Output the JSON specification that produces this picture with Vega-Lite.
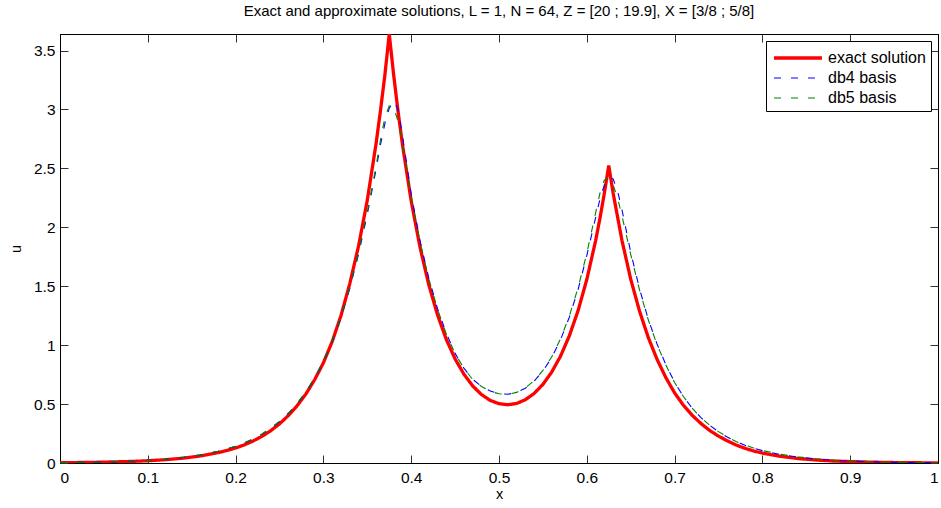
{
  "$schema": "https://vega.github.io/schema/vega-lite/v6.json",
  "width": 878,
  "height": 429,
  "autosize": {"type": "none"},
  "padding": {"left": 60, "top": 34, "right": 3, "bottom": 45},
  "background": "white",
  "title": {"text": "Exact and approximate solutions, L = 1, N = 64, Z = [20 ; 19.9], X = [3/8 ; 5/8]", "font": "Liberation Sans", "fontSize": 15, "fontWeight": "normal", "color": "black", "offset": 15, "anchor": "middle"},
  "config": {
    "view": {"stroke": "black", "strokeWidth": 1},
    "axis": {"grid": false, "domainColor": "black", "domainWidth": 1, "tickColor": "#333", "tickWidth": 1, "tickSize": -8, "labelFont": "Liberation Sans", "labelFontSize": 15.5, "labelColor": "black", "titleFont": "Liberation Sans", "titleFontSize": 14.5, "titleFontWeight": "normal", "titleColor": "black"}
  },
  "datasets": {"curves": [
    {"x":0,"u":0.002,"series":"exact solution"},{"x":0.02,"u":0.004,"series":"exact solution"},{"x":0.04,"u":0.006,"series":"exact solution"},{"x":0.06,"u":0.009,"series":"exact solution"},{"x":0.08,"u":0.013,"series":"exact solution"},{"x":0.1,"u":0.019,"series":"exact solution"},{"x":0.12,"u":0.028,"series":"exact solution"},{"x":0.14,"u":0.041,"series":"exact solution"},{"x":0.16,"u":0.06,"series":"exact solution"},{"x":0.18,"u":0.088,"series":"exact solution"},{"x":0.19,"u":0.106,"series":"exact solution"},{"x":0.2,"u":0.127,"series":"exact solution"},{"x":0.21,"u":0.154,"series":"exact solution"},{"x":0.22,"u":0.187,"series":"exact solution"},{"x":0.23,"u":0.226,"series":"exact solution"},{"x":0.24,"u":0.274,"series":"exact solution"},{"x":0.25,"u":0.332,"series":"exact solution"},{"x":0.26,"u":0.402,"series":"exact solution"},{"x":0.27,"u":0.485,"series":"exact solution"},{"x":0.28,"u":0.585,"series":"exact solution"},{"x":0.29,"u":0.706,"series":"exact solution"},{"x":0.3,"u":0.85,"series":"exact solution"},{"x":0.31,"u":1.03,"series":"exact solution"},{"x":0.32,"u":1.25,"series":"exact solution"},{"x":0.33,"u":1.52,"series":"exact solution"},{"x":0.34,"u":1.84,"series":"exact solution"},{"x":0.35,"u":2.23,"series":"exact solution"},{"x":0.36,"u":2.71,"series":"exact solution"},{"x":0.365,"u":2.99,"series":"exact solution"},{"x":0.37,"u":3.29,"series":"exact solution"},{"x":0.375,"u":3.64,"series":"exact solution"},{"x":0.38,"u":3.294,"series":"exact solution"},{"x":0.385,"u":2.985,"series":"exact solution"},{"x":0.39,"u":2.704,"series":"exact solution"},{"x":0.4,"u":2.223,"series":"exact solution"},{"x":0.41,"u":1.832,"series":"exact solution"},{"x":0.42,"u":1.513,"series":"exact solution"},{"x":0.43,"u":1.256,"series":"exact solution"},{"x":0.44,"u":1.048,"series":"exact solution"},{"x":0.45,"u":0.883,"series":"exact solution"},{"x":0.46,"u":0.754,"series":"exact solution"},{"x":0.47,"u":0.654,"series":"exact solution"},{"x":0.48,"u":0.581,"series":"exact solution"},{"x":0.49,"u":0.531,"series":"exact solution"},{"x":0.5,"u":0.503,"series":"exact solution"},{"x":0.51,"u":0.494,"series":"exact solution"},{"x":0.52,"u":0.505,"series":"exact solution"},{"x":0.53,"u":0.537,"series":"exact solution"},{"x":0.54,"u":0.59,"series":"exact solution"},{"x":0.55,"u":0.667,"series":"exact solution"},{"x":0.56,"u":0.771,"series":"exact solution"},{"x":0.57,"u":0.905,"series":"exact solution"},{"x":0.58,"u":1.077,"series":"exact solution"},{"x":0.59,"u":1.291,"series":"exact solution"},{"x":0.6,"u":1.557,"series":"exact solution"},{"x":0.61,"u":1.885,"series":"exact solution"},{"x":0.615,"u":2.077,"series":"exact solution"},{"x":0.62,"u":2.289,"series":"exact solution"},{"x":0.625,"u":2.524,"series":"exact solution"},{"x":0.63,"u":2.29,"series":"exact solution"},{"x":0.635,"u":2.09,"series":"exact solution"},{"x":0.64,"u":1.89,"series":"exact solution"},{"x":0.65,"u":1.56,"series":"exact solution"},{"x":0.66,"u":1.29,"series":"exact solution"},{"x":0.67,"u":1.065,"series":"exact solution"},{"x":0.68,"u":0.88,"series":"exact solution"},{"x":0.69,"u":0.725,"series":"exact solution"},{"x":0.7,"u":0.595,"series":"exact solution"},{"x":0.71,"u":0.49,"series":"exact solution"},{"x":0.72,"u":0.405,"series":"exact solution"},{"x":0.73,"u":0.335,"series":"exact solution"},{"x":0.74,"u":0.276,"series":"exact solution"},{"x":0.75,"u":0.228,"series":"exact solution"},{"x":0.76,"u":0.188,"series":"exact solution"},{"x":0.77,"u":0.153,"series":"exact solution"},{"x":0.78,"u":0.125,"series":"exact solution"},{"x":0.79,"u":0.102,"series":"exact solution"},{"x":0.8,"u":0.084,"series":"exact solution"},{"x":0.82,"u":0.057,"series":"exact solution"},{"x":0.84,"u":0.038,"series":"exact solution"},{"x":0.86,"u":0.026,"series":"exact solution"},{"x":0.88,"u":0.017,"series":"exact solution"},{"x":0.9,"u":0.012,"series":"exact solution"},{"x":0.92,"u":0.008,"series":"exact solution"},{"x":0.94,"u":0.005,"series":"exact solution"},{"x":0.96,"u":0.003,"series":"exact solution"},{"x":0.98,"u":0.002,"series":"exact solution"},{"x":1,"u":0.001,"series":"exact solution"},

    {"x":0,"u":0.003,"series":"db4 basis"},{"x":0.02,"u":0.005,"series":"db4 basis"},{"x":0.04,"u":0.007,"series":"db4 basis"},{"x":0.06,"u":0.01,"series":"db4 basis"},{"x":0.08,"u":0.015,"series":"db4 basis"},{"x":0.1,"u":0.022,"series":"db4 basis"},{"x":0.12,"u":0.032,"series":"db4 basis"},{"x":0.14,"u":0.047,"series":"db4 basis"},{"x":0.16,"u":0.068,"series":"db4 basis"},{"x":0.18,"u":0.099,"series":"db4 basis"},{"x":0.19,"u":0.119,"series":"db4 basis"},{"x":0.2,"u":0.142,"series":"db4 basis"},{"x":0.21,"u":0.17,"series":"db4 basis"},{"x":0.22,"u":0.204,"series":"db4 basis"},{"x":0.23,"u":0.245,"series":"db4 basis"},{"x":0.24,"u":0.293,"series":"db4 basis"},{"x":0.25,"u":0.351,"series":"db4 basis"},{"x":0.26,"u":0.42,"series":"db4 basis"},{"x":0.27,"u":0.502,"series":"db4 basis"},{"x":0.28,"u":0.6,"series":"db4 basis"},{"x":0.29,"u":0.718,"series":"db4 basis"},{"x":0.3,"u":0.858,"series":"db4 basis"},{"x":0.31,"u":1.03,"series":"db4 basis"},{"x":0.32,"u":1.235,"series":"db4 basis"},{"x":0.33,"u":1.48,"series":"db4 basis"},{"x":0.34,"u":1.77,"series":"db4 basis"},{"x":0.35,"u":2.11,"series":"db4 basis"},{"x":0.36,"u":2.49,"series":"db4 basis"},{"x":0.365,"u":2.7,"series":"db4 basis"},{"x":0.37,"u":2.88,"series":"db4 basis"},{"x":0.375,"u":3.01,"series":"db4 basis"},{"x":0.38,"u":3.07,"series":"db4 basis"},{"x":0.385,"u":3.0,"series":"db4 basis"},{"x":0.39,"u":2.78,"series":"db4 basis"},{"x":0.4,"u":2.28,"series":"db4 basis"},{"x":0.41,"u":1.89,"series":"db4 basis"},{"x":0.42,"u":1.57,"series":"db4 basis"},{"x":0.43,"u":1.31,"series":"db4 basis"},{"x":0.44,"u":1.1,"series":"db4 basis"},{"x":0.45,"u":0.93,"series":"db4 basis"},{"x":0.46,"u":0.805,"series":"db4 basis"},{"x":0.47,"u":0.71,"series":"db4 basis"},{"x":0.48,"u":0.65,"series":"db4 basis"},{"x":0.49,"u":0.61,"series":"db4 basis"},{"x":0.5,"u":0.588,"series":"db4 basis"},{"x":0.51,"u":0.583,"series":"db4 basis"},{"x":0.52,"u":0.598,"series":"db4 basis"},{"x":0.53,"u":0.635,"series":"db4 basis"},{"x":0.54,"u":0.695,"series":"db4 basis"},{"x":0.55,"u":0.78,"series":"db4 basis"},{"x":0.56,"u":0.895,"series":"db4 basis"},{"x":0.57,"u":1.045,"series":"db4 basis"},{"x":0.58,"u":1.235,"series":"db4 basis"},{"x":0.59,"u":1.47,"series":"db4 basis"},{"x":0.6,"u":1.76,"series":"db4 basis"},{"x":0.61,"u":2.08,"series":"db4 basis"},{"x":0.615,"u":2.24,"series":"db4 basis"},{"x":0.62,"u":2.36,"series":"db4 basis"},{"x":0.625,"u":2.42,"series":"db4 basis"},{"x":0.63,"u":2.41,"series":"db4 basis"},{"x":0.635,"u":2.31,"series":"db4 basis"},{"x":0.64,"u":2.15,"series":"db4 basis"},{"x":0.65,"u":1.79,"series":"db4 basis"},{"x":0.66,"u":1.48,"series":"db4 basis"},{"x":0.67,"u":1.22,"series":"db4 basis"},{"x":0.68,"u":1.01,"series":"db4 basis"},{"x":0.69,"u":0.835,"series":"db4 basis"},{"x":0.7,"u":0.685,"series":"db4 basis"},{"x":0.71,"u":0.565,"series":"db4 basis"},{"x":0.72,"u":0.465,"series":"db4 basis"},{"x":0.73,"u":0.385,"series":"db4 basis"},{"x":0.74,"u":0.32,"series":"db4 basis"},{"x":0.75,"u":0.265,"series":"db4 basis"},{"x":0.76,"u":0.22,"series":"db4 basis"},{"x":0.77,"u":0.182,"series":"db4 basis"},{"x":0.78,"u":0.151,"series":"db4 basis"},{"x":0.79,"u":0.126,"series":"db4 basis"},{"x":0.8,"u":0.105,"series":"db4 basis"},{"x":0.82,"u":0.073,"series":"db4 basis"},{"x":0.84,"u":0.051,"series":"db4 basis"},{"x":0.86,"u":0.035,"series":"db4 basis"},{"x":0.88,"u":0.024,"series":"db4 basis"},{"x":0.9,"u":0.016,"series":"db4 basis"},{"x":0.92,"u":0.011,"series":"db4 basis"},{"x":0.94,"u":0.007,"series":"db4 basis"},{"x":0.96,"u":0.005,"series":"db4 basis"},{"x":0.98,"u":0.003,"series":"db4 basis"},{"x":1,"u":0.002,"series":"db4 basis"},

    {"x":0,"u":0.003,"series":"db5 basis"},{"x":0.02,"u":0.005,"series":"db5 basis"},{"x":0.04,"u":0.007,"series":"db5 basis"},{"x":0.06,"u":0.01,"series":"db5 basis"},{"x":0.08,"u":0.015,"series":"db5 basis"},{"x":0.1,"u":0.022,"series":"db5 basis"},{"x":0.12,"u":0.032,"series":"db5 basis"},{"x":0.14,"u":0.047,"series":"db5 basis"},{"x":0.16,"u":0.068,"series":"db5 basis"},{"x":0.18,"u":0.1,"series":"db5 basis"},{"x":0.19,"u":0.12,"series":"db5 basis"},{"x":0.2,"u":0.143,"series":"db5 basis"},{"x":0.21,"u":0.171,"series":"db5 basis"},{"x":0.22,"u":0.205,"series":"db5 basis"},{"x":0.23,"u":0.246,"series":"db5 basis"},{"x":0.24,"u":0.295,"series":"db5 basis"},{"x":0.25,"u":0.353,"series":"db5 basis"},{"x":0.26,"u":0.422,"series":"db5 basis"},{"x":0.27,"u":0.505,"series":"db5 basis"},{"x":0.28,"u":0.603,"series":"db5 basis"},{"x":0.29,"u":0.722,"series":"db5 basis"},{"x":0.3,"u":0.863,"series":"db5 basis"},{"x":0.31,"u":1.035,"series":"db5 basis"},{"x":0.32,"u":1.24,"series":"db5 basis"},{"x":0.33,"u":1.49,"series":"db5 basis"},{"x":0.34,"u":1.785,"series":"db5 basis"},{"x":0.35,"u":2.13,"series":"db5 basis"},{"x":0.36,"u":2.52,"series":"db5 basis"},{"x":0.365,"u":2.74,"series":"db5 basis"},{"x":0.37,"u":2.93,"series":"db5 basis"},{"x":0.375,"u":3.03,"series":"db5 basis"},{"x":0.38,"u":3.02,"series":"db5 basis"},{"x":0.385,"u":2.9,"series":"db5 basis"},{"x":0.39,"u":2.72,"series":"db5 basis"},{"x":0.4,"u":2.26,"series":"db5 basis"},{"x":0.41,"u":1.88,"series":"db5 basis"},{"x":0.42,"u":1.565,"series":"db5 basis"},{"x":0.43,"u":1.305,"series":"db5 basis"},{"x":0.44,"u":1.095,"series":"db5 basis"},{"x":0.45,"u":0.928,"series":"db5 basis"},{"x":0.46,"u":0.803,"series":"db5 basis"},{"x":0.47,"u":0.709,"series":"db5 basis"},{"x":0.48,"u":0.649,"series":"db5 basis"},{"x":0.49,"u":0.609,"series":"db5 basis"},{"x":0.5,"u":0.587,"series":"db5 basis"},{"x":0.51,"u":0.583,"series":"db5 basis"},{"x":0.52,"u":0.599,"series":"db5 basis"},{"x":0.53,"u":0.637,"series":"db5 basis"},{"x":0.54,"u":0.698,"series":"db5 basis"},{"x":0.55,"u":0.785,"series":"db5 basis"},{"x":0.56,"u":0.9,"series":"db5 basis"},{"x":0.57,"u":1.052,"series":"db5 basis"},{"x":0.58,"u":1.245,"series":"db5 basis"},{"x":0.59,"u":1.485,"series":"db5 basis"},{"x":0.6,"u":1.78,"series":"db5 basis"},{"x":0.61,"u":2.12,"series":"db5 basis"},{"x":0.615,"u":2.29,"series":"db5 basis"},{"x":0.62,"u":2.4,"series":"db5 basis"},{"x":0.625,"u":2.42,"series":"db5 basis"},{"x":0.63,"u":2.36,"series":"db5 basis"},{"x":0.635,"u":2.25,"series":"db5 basis"},{"x":0.64,"u":2.1,"series":"db5 basis"},{"x":0.65,"u":1.77,"series":"db5 basis"},{"x":0.66,"u":1.47,"series":"db5 basis"},{"x":0.67,"u":1.215,"series":"db5 basis"},{"x":0.68,"u":1.005,"series":"db5 basis"},{"x":0.69,"u":0.832,"series":"db5 basis"},{"x":0.7,"u":0.683,"series":"db5 basis"},{"x":0.71,"u":0.564,"series":"db5 basis"},{"x":0.72,"u":0.465,"series":"db5 basis"},{"x":0.73,"u":0.385,"series":"db5 basis"},{"x":0.74,"u":0.32,"series":"db5 basis"},{"x":0.75,"u":0.266,"series":"db5 basis"},{"x":0.76,"u":0.221,"series":"db5 basis"},{"x":0.77,"u":0.183,"series":"db5 basis"},{"x":0.78,"u":0.152,"series":"db5 basis"},{"x":0.79,"u":0.127,"series":"db5 basis"},{"x":0.8,"u":0.106,"series":"db5 basis"},{"x":0.82,"u":0.074,"series":"db5 basis"},{"x":0.84,"u":0.052,"series":"db5 basis"},{"x":0.86,"u":0.036,"series":"db5 basis"},{"x":0.88,"u":0.024,"series":"db5 basis"},{"x":0.9,"u":0.016,"series":"db5 basis"},{"x":0.92,"u":0.011,"series":"db5 basis"},{"x":0.94,"u":0.007,"series":"db5 basis"},{"x":0.96,"u":0.005,"series":"db5 basis"},{"x":0.98,"u":0.003,"series":"db5 basis"},{"x":1,"u":0.002,"series":"db5 basis"}
  ]},
  "data": {"name": "curves"},
  "layer": [
    {"transform": [{"filter": "datum.series == 'exact solution'"}], "mark": {"type": "line", "clip": true},
     "encoding": {
      "x": {"field": "x", "type": "quantitative", "scale": {"domain": [0, 1], "nice": false, "zero": false},
        "axis": {"values": [0,0.1,0.2,0.3,0.4,0.5,0.6,0.7,0.8,0.9,1], "format": "~g", "title": "x", "labelPadding": 15, "titlePadding": 2}},
      "y": {"field": "u", "type": "quantitative", "scale": {"domain": [0, 3.64], "nice": false, "zero": false},
        "axis": {"values": [0,0.5,1,1.5,2,2.5,3,3.5], "format": "~g", "title": "u", "labelPadding": 13, "titlePadding": 10}},
      "color": {"field": "series", "type": "nominal",
        "scale": {"domain": ["exact solution", "db4 basis", "db5 basis"], "range": ["#ff0000", "#0000ff", "#008000"]},
        "legend": {"title": null, "orient": "top-right", "offset": 7, "symbolType": "M-2.4,0H2.4", "symbolSize": 400, "symbolOffset": 15, "symbolFillColor": "transparent", "labelFont": "Liberation Sans", "labelFontSize": 16, "labelColor": "black", "strokeColor": "black", "fillColor": "white", "padding": 5, "rowPadding": 1, "labelOffset": 18, "cornerRadius": 0}},
      "strokeDash": {"field": "series", "type": "nominal",
        "scale": {"type": "ordinal", "domain": ["exact solution", "db4 basis", "db5 basis"], "range": [[1, 0], [7, 10], [7, 10]]}},
      "strokeWidth": {"field": "series", "type": "nominal",
        "scale": {"type": "ordinal", "domain": ["exact solution", "db4 basis", "db5 basis"], "range": [3.3, 1.1, 1.1]}},
      "order": {"field": "x", "type": "quantitative"}
     }},
    {"transform": [{"filter": "datum.series == 'db4 basis'"}], "mark": {"type": "line", "clip": true, "strokeWidth": 1.1},
     "encoding": {
      "x": {"field": "x", "type": "quantitative", "axis": null},
      "y": {"field": "u", "type": "quantitative", "axis": null},
      "color": {"field": "series", "type": "nominal"},
      "strokeDash": {"field": "series", "type": "nominal"},
      "order": {"field": "x", "type": "quantitative"}
     }},
    {"transform": [{"filter": "datum.series == 'db5 basis'"}], "mark": {"type": "line", "clip": true, "strokeWidth": 1.1},
     "encoding": {
      "x": {"field": "x", "type": "quantitative", "axis": null},
      "y": {"field": "u", "type": "quantitative", "axis": null},
      "color": {"field": "series", "type": "nominal"},
      "strokeDash": {"field": "series", "type": "nominal"},
      "order": {"field": "x", "type": "quantitative"}
     }},
    {"mark": {"type": "line", "opacity": 0, "stroke": "black"},
     "encoding": {
      "x": {"field": "x", "type": "quantitative", "axis": {"orient": "top", "values": [0,0.1,0.2,0.3,0.4,0.5,0.6,0.7,0.8,0.9,1], "labels": false, "title": null}},
      "y": {"field": "u", "type": "quantitative", "axis": {"orient": "right", "values": [0,0.5,1,1.5,2,2.5,3,3.5], "labels": false, "title": null}},
      "detail": {"field": "series"}
     }}
  ],
  "resolve": {"axis": {"x": "independent", "y": "independent"}}
}
